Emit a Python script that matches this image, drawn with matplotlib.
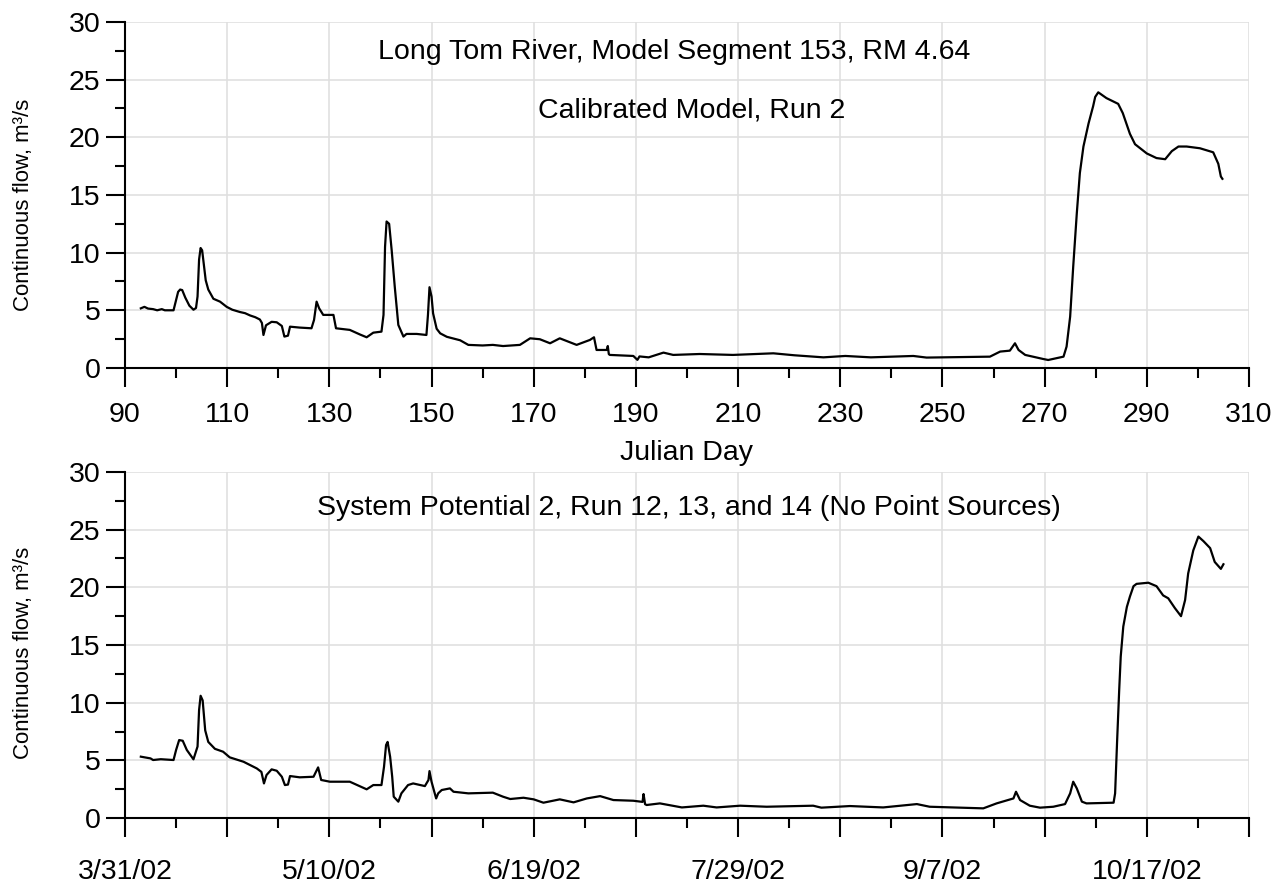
import datetime as dt

import matplotlib
matplotlib.use("Agg")
import matplotlib.pyplot as plt
from matplotlib import font_manager
from matplotlib.ticker import MultipleLocator

plt.rcParams["font.family"] = ["Liberation Sans", "DejaVu Sans"]

# calibrated model, run 2 (julian day, flow m3/s)
top_day = [93.1, 93.8, 94.5, 95.5, 96.3, 97.2, 97.8, 99.5, 100.0, 100.4, 100.8, 101.2, 101.8,
           102.6, 103.4, 103.9, 104.2, 104.5, 104.8, 105.1, 105.4, 105.8, 106.3, 107.3, 108.6,
           109.9, 111.0, 112.5, 113.5, 114.5, 115.5, 116.4, 116.8, 117.1, 117.6, 118.7, 119.7,
           120.7, 121.2, 121.9, 122.3, 124.2, 126.5, 127.0, 127.5, 128.0, 128.8, 130.8, 131.3,
           134.0, 136.0, 137.3, 138.6, 140.2, 140.6, 140.9, 141.2, 141.7, 142.2, 142.8, 143.5,
           144.5, 145.1, 147.1, 149.0, 149.3, 149.6, 150.0, 150.3, 151.0, 151.7, 153.0, 155.6,
           157.2, 160.0, 162.0, 164.0, 167.3, 169.3, 171.2, 173.2, 175.1, 178.4, 181.0, 181.8,
           182.3, 184.3, 184.5, 184.7, 184.9, 189.5, 190.3, 190.7, 192.5, 195.4, 197.3, 202.5,
           209.0, 216.9, 221.0, 226.7, 231.0, 236.0, 244.3, 246.9, 259.3, 261.3, 263.2, 264.2,
           264.9, 266.2, 269.7, 270.7, 273.7, 274.3, 275.0, 275.6, 276.3, 276.9, 277.6, 278.6,
           279.5, 279.9, 280.5, 282.1, 284.4, 285.3, 286.7, 287.7, 290.0, 291.9, 293.6, 294.9,
           296.2, 297.8, 300.4, 303.0, 304.0, 304.5, 304.8]
top_flow = [5.17, 5.3, 5.15, 5.1, 5.0, 5.1, 5.0, 5.0, 5.9, 6.6, 6.8, 6.75, 6.1,
            5.4, 5.05, 5.2, 6.2, 9.4, 10.4, 10.2, 9.1, 7.6, 6.8, 6.0, 5.75,
            5.3, 5.05, 4.85, 4.75, 4.55, 4.4, 4.2, 3.9, 2.86, 3.7, 4.0, 3.96,
            3.64, 2.72, 2.8, 3.58, 3.5, 3.44, 4.16, 5.75, 5.17, 4.6, 4.6, 3.44,
            3.3, 2.9, 2.66, 3.06, 3.15, 4.6, 10.5, 12.7, 12.5, 10.2, 7.05, 3.73,
            2.72, 2.95, 2.95, 2.86, 4.6, 7.0, 6.2, 4.74, 3.4, 3.0, 2.7, 2.4,
            2.0, 1.95, 2.0, 1.9, 2.0, 2.57, 2.49, 2.14, 2.57, 2.0, 2.43, 2.66,
            1.56, 1.56, 1.9, 1.2, 1.13, 1.04, 0.7, 1.0, 0.92, 1.33, 1.13, 1.21,
            1.13, 1.27, 1.1, 0.92, 1.04, 0.92, 1.04, 0.9, 0.98, 1.42, 1.5, 2.14,
            1.56, 1.13, 0.78, 0.69, 0.98, 1.85, 4.45, 8.79, 13.4, 16.9, 19.2, 21.2,
            22.7, 23.5, 23.9, 23.4, 22.9, 22.1, 20.3, 19.4, 18.6, 18.2, 18.1, 18.8,
            19.2, 19.2, 19.05, 18.7, 17.7, 16.6, 16.4]

# system potential 2, runs 12-14 (no point sources)
bot_day = [93.1, 94.0, 95.0, 95.5, 97.0, 99.5, 100.0, 100.6, 101.3, 102.1, 103.4, 104.2, 104.5,
           104.8, 105.2, 105.7, 106.3, 107.6, 109.2, 110.5, 113.2, 115.8, 116.7, 117.2, 117.7,
           118.7, 119.7, 120.7, 121.3, 121.9, 122.3, 124.2, 126.9, 127.8, 128.4, 130.1, 134.0,
           137.3, 138.6, 140.2, 140.7, 141.1, 141.4, 141.9, 142.3, 142.6, 143.5, 144.1, 145.4,
           146.4, 148.7, 149.4, 149.6, 150.0, 150.9, 151.3, 152.0, 153.6, 154.3, 157.2, 162.0,
           164.0, 165.4, 168.0, 170.0, 171.9, 175.1, 177.8, 180.4, 183.0, 185.6, 189.5, 191.3,
           191.5, 191.8, 192.1, 194.7, 199.0, 203.2, 205.8, 210.4, 215.6, 224.7, 226.3, 231.9,
           238.4, 245.0, 247.5, 258.0, 260.6, 263.9, 264.4, 265.2, 267.1, 269.1, 271.7, 274.0,
           275.0, 275.6, 276.3, 277.3, 278.2, 283.5, 283.8, 284.2, 284.6, 284.9, 285.4, 286.1,
           286.7, 287.4, 288.0, 290.3, 291.9, 293.2, 294.2, 295.5, 296.7, 297.5, 298.1, 299.1,
           300.1, 301.1, 302.4, 303.3, 304.0, 304.5, 305.0]
bot_flow = [5.32, 5.25, 5.17, 5.03, 5.1, 5.03, 5.9, 6.76, 6.7, 5.9, 5.09, 6.2, 9.36,
            10.6, 10.2, 7.6, 6.6, 6.0, 5.75, 5.26, 4.88, 4.3, 4.0, 3.0, 3.73,
            4.22, 4.1, 3.58, 2.86, 2.9, 3.64, 3.53, 3.58, 4.39, 3.3, 3.15, 3.15,
            2.49, 2.86, 2.86, 4.45, 6.33, 6.6, 5.3, 3.58, 1.85, 1.42, 2.14, 2.86,
            3.0, 2.77, 3.3, 4.07, 3.15, 1.7, 2.14, 2.43, 2.57, 2.28, 2.14, 2.2,
            1.85, 1.65, 1.76, 1.62, 1.33, 1.62, 1.36, 1.7, 1.9, 1.56, 1.5, 1.4,
            2.08, 1.2, 1.13, 1.27, 0.92, 1.07, 0.92, 1.07, 0.98, 1.07, 0.9, 1.04,
            0.92, 1.21, 0.98, 0.84, 1.27, 1.7, 2.28, 1.56, 1.07, 0.9, 0.98, 1.21,
            2.14, 3.15, 2.57, 1.42, 1.27, 1.33, 2.14, 6.76, 11.1, 14.0, 16.6, 18.3,
            19.2, 20.1, 20.3, 20.4, 20.1, 19.3, 19.05, 18.2, 17.5, 18.9, 21.2, 23.2,
            24.4, 24.0, 23.4, 22.2, 21.85, 21.6, 22.0]

x_ticks = list(range(90, 311, 20))
date_labels = []
for i, d in enumerate(x_ticks):
    if i % 2 == 0:
        t = dt.date(2002, 1, 1) + dt.timedelta(days=d - 1)
        date_labels.append(f"{t.month}/{t.day}/{t.strftime('%y')}")
    else:
        date_labels.append("")

FS = 20.5
installed = {f.name for f in font_manager.fontManager.ttflist}
if "Liberation Sans Narrow" in installed:
    ylab_font = {"family": ["Liberation Sans Narrow", "Liberation Sans"], "size": 19.5}
else:
    ylab_font = {"family": ["Liberation Sans", "DejaVu Sans"], "size": 16}

fig = plt.figure(figsize=(12.86, 8.86), dpi=100)
ax1 = fig.add_axes([0.0972, 0.5847, 0.874, 0.3905])
ax2 = fig.add_axes([0.0972, 0.0767, 0.874, 0.3906])

for ax, xs, ys in [(ax1, top_day, top_flow), (ax2, bot_day, bot_flow)]:
    ax.plot(xs, ys, color="black", linewidth=1.6, zorder=3)
    ax.set_xlim(90, 310)
    ax.set_ylim(0, 30)
    ax.set_xticks(x_ticks)
    ax.xaxis.set_minor_locator(MultipleLocator(10))
    ax.yaxis.set_major_locator(MultipleLocator(5))
    ax.yaxis.set_minor_locator(MultipleLocator(2.5))
    ax.grid(True, which="major", color="#e0e0e0", linewidth=1.2, zorder=0)
    ax.set_axisbelow(True)
    for s in ["top", "right"]:
        ax.spines[s].set_visible(False)
    for s in ["left", "bottom"]:
        ax.spines[s].set_linewidth(1.5)
    ax.tick_params(which="major", direction="out", length=13.5, width=1.5,
                   labelsize=FS, pad=4)
    ax.tick_params(axis="x", which="major", pad=11)
    ax.tick_params(which="minor", direction="out", length=7, width=1.5)
    ax.set_ylabel("Continuous flow, m³/s", fontdict=ylab_font)

ax1.yaxis.set_label_coords(-0.081, 0.47)
ax2.yaxis.set_label_coords(-0.081, 0.477)
ax2.tick_params(axis="x", which="major", pad=16)

ax1.set_xlabel("Julian Day", fontsize=FS, labelpad=9)
ax2.set_xticklabels(date_labels)

ax1.text(197.5, 27.4, "Long Tom River, Model Segment 153, RM 4.64",
         fontsize=FS, ha="center", va="center")
ax1.text(200.9, 22.3, "Calibrated Model, Run 2", fontsize=FS, ha="center", va="center")
ax2.text(200.3, 26.9, "System Potential 2, Run 12, 13, and 14 (No Point Sources)",
         fontsize=FS, ha="center", va="center")

fig.savefig("out.png", dpi=100)
